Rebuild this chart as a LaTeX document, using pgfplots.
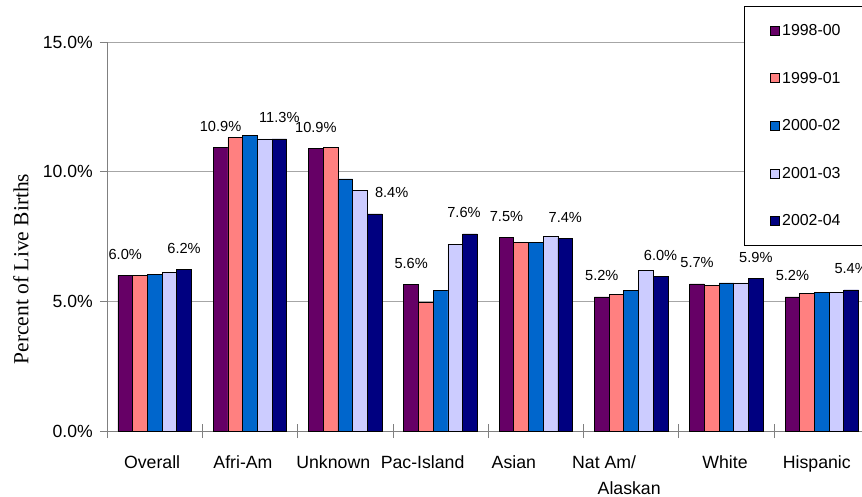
\documentclass[border=0pt]{standalone}
\usepackage{pgfplots}
\usepackage{pgfplotstable}
\pgfplotsset{compat=1.18}
\usepackage{fontspec}
\setmainfont{Liberation Sans}
\newfontfamily\serifft{Liberation Serif}
\definecolor{c1}{HTML}{660066}
\definecolor{c2}{HTML}{FF8080}
\definecolor{c3}{HTML}{0066CC}
\definecolor{c4}{HTML}{CCCCFF}
\definecolor{c5}{HTML}{000080}
\pgfplotstableread{
x a b c d e
0 6.00 6.00 6.05 6.10 6.24
1 10.94 11.31 11.38 11.26 11.26
2 10.88 10.93 9.72 9.29 8.37
3 5.64 4.97 5.43 7.21 7.60
4 7.46 7.26 7.26 7.49 7.44
5 5.17 5.27 5.43 6.20 5.96
6 5.67 5.62 5.71 5.71 5.89
7 5.17 5.32 5.36 5.36 5.44
}\data
\begin{document}
\begin{tikzpicture}
\begin{axis}[name=ax,
 scale only axis, width=755pt, height=389pt,
 xmin=-0.5, xmax=7.422, ymin=0, ymax=15,
 ybar=0pt, bar width=14.7pt,
 axis x line*=bottom, axis y line*=left,
 axis line style={draw=gray, line width=0.8pt},
 xtick={0,...,7},
 xticklabels={Overall\hspace*{5pt}, Afri-Am\hspace*{14pt}, Unknown\hspace*{24pt}, Pac-Island\hspace*{36pt}, Asian\hspace*{44pt}, {Nat Am/\hspace*{54pt}\\[5pt]Alaskan\hspace*{4pt}}, White\hspace*{3pt}, Hispanic\hspace*{10pt}},
 minor xtick={-0.5,0.5,...,6.5},
 xtick align=center, ytick align=outside,
 major x tick style={draw=none},
 minor x tick style={draw=gray, line width=0.8pt},
 minor tick length=14pt, major tick length=7pt,
 ytick={0,5,10,15}, yticklabels={0.0\%,5.0\%,10.0\%,15.0\%},
 y tick style={draw=gray, line width=0.8pt},
 ymajorgrids, grid style={draw=gray!70, line width=0.8pt},
 xticklabel style={font=\fontsize{17.7}{21}\selectfont, align=center, anchor=north, inner sep=0pt, yshift=-21pt},
 yticklabel style={font=\fontsize{17.6}{21}\selectfont, anchor=east, inner sep=0pt, xshift=-7pt},
 ylabel={\serifft Percent of Live Births},
 ylabel style={at={(rel axis cs:-0.1139,0.4165)}, anchor=center, font=\fontsize{21.5}{25}\selectfont},
 every node near coord/.append style={anchor=south, inner sep=0pt, yshift=15.5pt, font=\fontsize{14.6}{17}\selectfont, text=black},
 legend style={at={(rel axis cs:0.8437,1.0925)}, anchor=north west, draw=black, line width=0.8pt, fill=white, font=\fontsize{15.9}{19}\selectfont, row sep=31pt, inner xsep=26pt, inner ysep=16pt},
 legend cell align=left,
 every axis plot post/.append style={legend image code/.code={\draw[##1, line width=0.8pt] (0pt,-4.5pt) rectangle (9pt,4.5pt);}},
]
\addplot[fill=c1, draw=black, line width=0.8pt, nodes near coords={\pgfmathprintnumber[fixed,fixed zerofill,precision=1,assume math mode=true]{\pgfplotspointmeta}\%}] table[x=x,y=a]{\data};
\addplot[fill=c2, draw=black, line width=0.8pt] table[x=x,y=b]{\data};
\addplot[fill=c3, draw=black, line width=0.8pt] table[x=x,y=c]{\data};
\addplot[fill=c4, draw=black, line width=0.8pt] table[x=x,y=d]{\data};
\addplot[fill=c5, draw=black, line width=0.8pt,
 coordinate style/.condition={x==2}{xshift=17pt},
 coordinate style/.condition={x==3}{xshift=-6pt},
 nodes near coords={\pgfmathprintnumber[fixed,fixed zerofill,precision=1,assume math mode=true]{\pgfplotspointmeta}\%}] table[x=x,y=e]{\data};
\legend{1998-00,1999-01,2000-02,2001-03,2002-04}
\end{axis}
\pgfresetboundingbox
\path[use as bounding box] ([shift={(-107pt,-65pt)}]ax.south west) rectangle ([shift={(0pt,42pt)}]ax.north east);
\end{tikzpicture}
\end{document}
